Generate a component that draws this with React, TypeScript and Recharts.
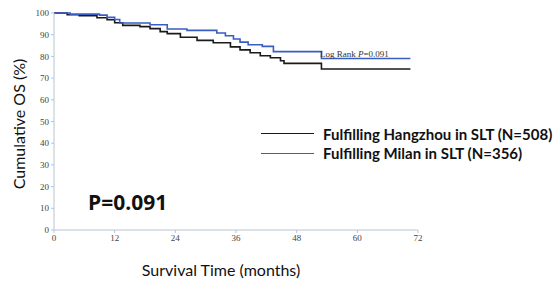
import { LineChart, Line, XAxis, YAxis } from 'recharts';

// Kaplan-Meier step points (months, survival %)
const hangzhouMonths = [0, 2.6, 5, 8.5, 10.5, 12, 13.6, 17, 19, 21, 22.4, 25, 28.3, 31.5, 34.9, 36.8, 38.8, 40.8, 42.8, 44.8, 45.5, 52.9, 70.5];
const hangzhouSurv = [100, 99.2, 98.8, 97.8, 96.9, 95.5, 94.3, 93.7, 92.8, 91.4, 90.5, 88.8, 87.4, 86.3, 84.4, 83, 81.7, 80.3, 79.4, 78, 76.8, 74.2, 74.2];

const milanMonths = [0, 3.2, 9, 10.5, 12, 13, 19, 22.4, 26.3, 32.2, 33.9, 35.5, 36.8, 38.4, 41.2, 43.4, 52.9, 70.5];
const milanSurv = [100, 99.5, 99, 98, 97, 95.4, 94.6, 92.6, 92, 90.8, 89.5, 88, 86.6, 85.4, 84.6, 82.2, 79, 79];

const xTicks = [0, 12, 24, 36, 48, 60, 72];
const yTicks = [0, 10, 20, 30, 40, 50, 60, 70, 80, 90, 100];

const seriesNames = ['Fulfilling Hangzhou in SLT (N=508)', 'Fulfilling Milan in SLT (N=356)'];
const seriesColors = ['#1a1a1a', '#3b5cc4'];

const hangzhouData = hangzhouMonths.map((t, i) => ({ t, v: hangzhouSurv[i] }));
const milanData = milanMonths.map((t, i) => ({ t, v: milanSurv[i] }));

const axisColor = '#b8c4d4';
const tickStyle = { fontFamily: '"Liberation Serif", serif', fontSize: 9, fill: '#444' };
const sans = 'Lato, "Open Sans", sans-serif';
const boldSans = '"Open Sans", Lato, sans-serif';

export default function App() {
  return (
    <div style={{ position: 'absolute', left: 0, top: 0, width: 558, height: 285, background: '#fff' }}>
      <LineChart width={558} height={285} margin={{ top: 13, right: 140, bottom: 0, left: 0 }}>
        <XAxis
          dataKey="t"
          type="number"
          domain={[0, 72]}
          ticks={xTicks}
          tickSize={3}
          height={55}
          stroke={axisColor}
          tick={tickStyle}
          allowDuplicatedCategory={false}
          label={{
            content: () => (
              <text x={221} y={276} textAnchor="middle" fontFamily={sans} fontSize={16} fill="#111">
                Survival Time (months)
              </text>
            ),
          }}
        />
        <YAxis
          type="number"
          domain={[0, 100]}
          ticks={yTicks}
          tickSize={3}
          width={54}
          stroke={axisColor}
          tick={tickStyle}
          label={{
            content: () => (
              <text x={25} y={124} transform="rotate(-90 25 124)" textAnchor="middle" fontFamily={sans} fontSize={16} fill="#111">
                Cumulative OS (%)
              </text>
            ),
          }}
        />
        <Line data={hangzhouData} dataKey="v" name={seriesNames[0]} type="stepAfter" stroke={seriesColors[0]} strokeWidth={1.6} dot={false} isAnimationActive={false} />
        <Line data={milanData} dataKey="v" name={seriesNames[1]} type="stepAfter" stroke={seriesColors[1]} strokeWidth={1.6} dot={false} isAnimationActive={false} />
      </LineChart>
      <div style={{ position: 'absolute', left: 261, top: 124, fontFamily: sans }}>
        {seriesNames.map((name, i) => (
          <div key={name} style={{ display: 'flex', alignItems: 'center', height: 19.5 }}>
            <div style={{ width: 53, height: 0, borderTop: `1.5px solid ${seriesColors[i]}`, marginRight: 9 }} />
            <span style={{ fontSize: 15, fontWeight: 700, color: '#111', whiteSpace: 'nowrap' }}>{name}</span>
          </div>
        ))}
      </div>
      <div style={{ position: 'absolute', left: 320, top: 49, fontFamily: '"Liberation Serif", serif', fontSize: 9, color: '#333', whiteSpace: 'nowrap' }}>
        Log Rank <i>P</i>=0.091
      </div>
      <div style={{ position: 'absolute', left: 88, top: 188, fontFamily: boldSans, fontSize: 21, fontWeight: 700, color: '#111' }}>
        P=0.091
      </div>
    </div>
  );
}
